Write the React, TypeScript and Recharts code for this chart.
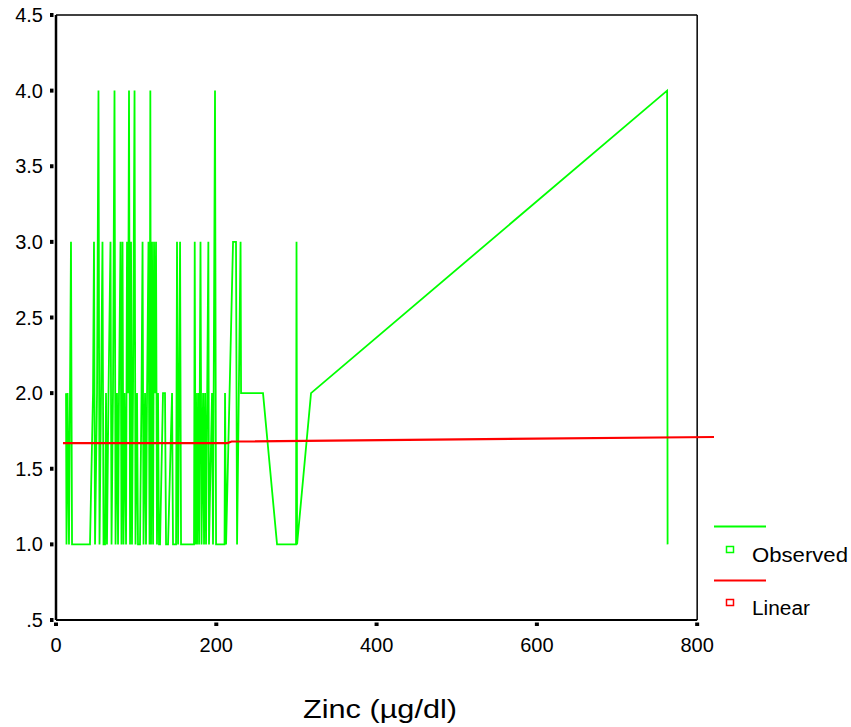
import { LineChart, Line, XAxis, YAxis, ReferenceLine, Legend } from 'recharts'

// zinc (µg/dl) values in sorted order, with the observed value for each
const zinc = [
  12.5, 13.1, 14.4, 16.2, 18.7, 20.0, 42.4, 46.2, 47.4, 48.7, 51.2, 53.0, 54.3, 56.2, 58.0, 59.3,
  61.2, 62.4, 63.6, 65.5, 68.0, 69.3, 71.1, 73.0, 74.3, 76.1, 77.4, 78.6, 80.5, 81.7, 83.0, 84.2,
  85.5, 87.4, 88.6, 89.9, 91.1, 92.4, 93.6, 94.8, 96.1, 98.0, 99.2, 101.1, 102.3, 104.8, 106.7,
  108.0, 109.2, 111.1, 112.3, 113.6, 115.4, 116.7, 117.7, 118.6, 119.8, 121.1, 122.3, 123.6, 124.8,
  126.0, 127.3, 128.5, 129.8, 133.5, 136.0, 137.3, 139.8, 144.8, 146.0, 149.8, 151.0, 152.3, 154.8,
  156.0, 163.5, 172.2, 173.1, 174.1, 174.7, 176.0, 177.2, 178.5, 180.3, 181.6, 183.5, 184.7, 186.0,
  187.2, 190.1, 190.9, 194.7, 195.9, 198.4, 199.7, 210.3, 210.9, 212.2, 220.9, 224.6, 225.9, 230.3,
  230.9, 258.3, 275.8, 299.5, 300.1, 300.8, 318.2, 762.5, 763.1,
]
const observed = [
  2, 1, 2, 1, 3, 1, 1, 2, 3, 1, 2, 4, 1, 2, 3, 1,
  1, 2, 1, 2, 3, 1, 2, 4, 1, 2, 1, 2, 3, 1, 3, 1,
  2, 1, 3, 2, 4, 1, 3, 1, 2, 4, 1, 2, 1, 1, 2,
  3, 1, 2, 1, 2, 3, 1, 4, 1, 3, 1, 3, 2, 3,
  1, 2, 1, 1, 2, 2, 1, 1, 2, 1, 1, 3, 1, 3,
  1, 1, 1, 3, 1, 2, 1, 2, 1, 3, 1, 2, 1, 2,
  1, 3, 1, 2, 1, 4, 1, 1, 2, 1, 3, 3, 1, 3,
  2, 2, 1, 1, 3, 1, 2, 4, 1,
]

// linear fit
const linearZinc = [8.7, 214, 219, 821]
const linearValue = [1.67, 1.67, 1.68, 1.71]

const xTicks = [0, 200, 400, 600, 800]
const yTicks = [0.5, 1, 1.5, 2, 2.5, 3, 3.5, 4, 4.5]

const observedData = zinc.map((z, i) => ({ zinc: z, value: observed[i] }))
const linearData = linearZinc.map((z, i) => ({ zinc: z, value: linearValue[i] }))

const FONT = '"Liberation Sans", Arial, sans-serif'
const GREEN = '#00ff00'
const RED = '#ff0000'

function YTick({ x, y, payload }: any) {
  const v = payload.value
  const label = v === 0.5 ? '.5' : v.toFixed(1)
  return (
    <g>
      <rect x={x + 2} y={y - 2} width={3.5} height={4} fill="#000" />
      <text x={x - 5} y={y + 7} textAnchor="end" fontSize={20} fontFamily={FONT} fill="#000">
        {label}
      </text>
    </g>
  )
}

function XTick({ x, y, payload }: any) {
  return (
    <g>
      <rect x={x - 2} y={y - 5.5} width={4} height={3.5} fill="#000" />
      <text x={x} y={y + 24} textAnchor="middle" fontSize={20} fontFamily={FONT} fill="#000">
        {payload.value}
      </text>
    </g>
  )
}

function AxisTitle({ viewBox }: any) {
  return (
    <text
      x={viewBox.x + 324}
      y={viewBox.y + 98}
      textAnchor="middle"
      fontSize={25}
      fontFamily={FONT}
      fill="#000"
      textLength={154}
      lengthAdjust="spacingAndGlyphs"
    >
      Zinc (µg/dl)
    </text>
  )
}

function LegendBox() {
  return (
    <svg width={137} height={110} style={{ display: 'block' }}>
      <line x1={0} y1={12.5} x2={52} y2={12.5} stroke={GREEN} strokeWidth={2} />
      <rect x={12.5} y={32.5} width={7} height={6} fill="none" stroke={GREEN} strokeWidth={1.5} />
      <text x={38} y={47.5} fontSize={20} fontFamily={FONT} fill="#000" textLength={96} lengthAdjust="spacingAndGlyphs">
        Observed
      </text>
      <line x1={0} y1={66.5} x2={52} y2={66.5} stroke={RED} strokeWidth={2} />
      <rect x={12.5} y={85.5} width={7} height={6} fill="none" stroke={RED} strokeWidth={1.5} />
      <text x={38} y={101} fontSize={20} fontFamily={FONT} fill="#000" textLength={58} lengthAdjust="spacingAndGlyphs">
        Linear
      </text>
    </svg>
  )
}

export default function App() {
  return (
    <div style={{ position: 'absolute', left: 0, top: 0, background: '#fff' }}>
      <LineChart width={851} height={727} margin={{ top: 15, right: 137, left: 0, bottom: 0 }}>
        <XAxis
          dataKey="zinc"
          type="number"
          domain={[0, 821]}
          ticks={xTicks}
          axisLine={false}
          tickLine={false}
          height={107}
          tick={<XTick />}
          label={{ content: <AxisTitle /> }}
          allowDuplicatedCategory={false}
        />
        <YAxis
          type="number"
          domain={[0.5, 4.5]}
          ticks={yTicks}
          axisLine={false}
          tickLine={false}
          width={56}
          tick={<YTick />}
        />
        <ReferenceLine segment={[{ x: 0, y: 4.5 }, { x: 800, y: 4.5 }]} stroke="#000" strokeWidth={1.5} />
        <ReferenceLine segment={[{ x: 800, y: 0.5 }, { x: 800, y: 4.5 }]} stroke="#000" strokeWidth={1.5} />
        <ReferenceLine segment={[{ x: 0, y: 0.5 }, { x: 800, y: 0.5 }]} stroke="#000" strokeWidth={2} />
        <ReferenceLine segment={[{ x: 0, y: 0.5 }, { x: 0, y: 4.5 }]} stroke="#000" strokeWidth={2.5} />
        <Line
          data={observedData}
          dataKey="value"
          stroke={GREEN}
          strokeWidth={1.8}
          dot={false}
          isAnimationActive={false}
          name="Observed"
        />
        <Line
          data={linearData}
          dataKey="value"
          stroke={RED}
          strokeWidth={2.2}
          dot={false}
          isAnimationActive={false}
          name="Linear"
        />
        <Legend
          layout="horizontal"
          verticalAlign="middle"
          align="center"
          content={<LegendBox />}
          wrapperStyle={{ left: 714, top: 514, width: 137, height: 110 }}
        />
      </LineChart>
    </div>
  )
}
